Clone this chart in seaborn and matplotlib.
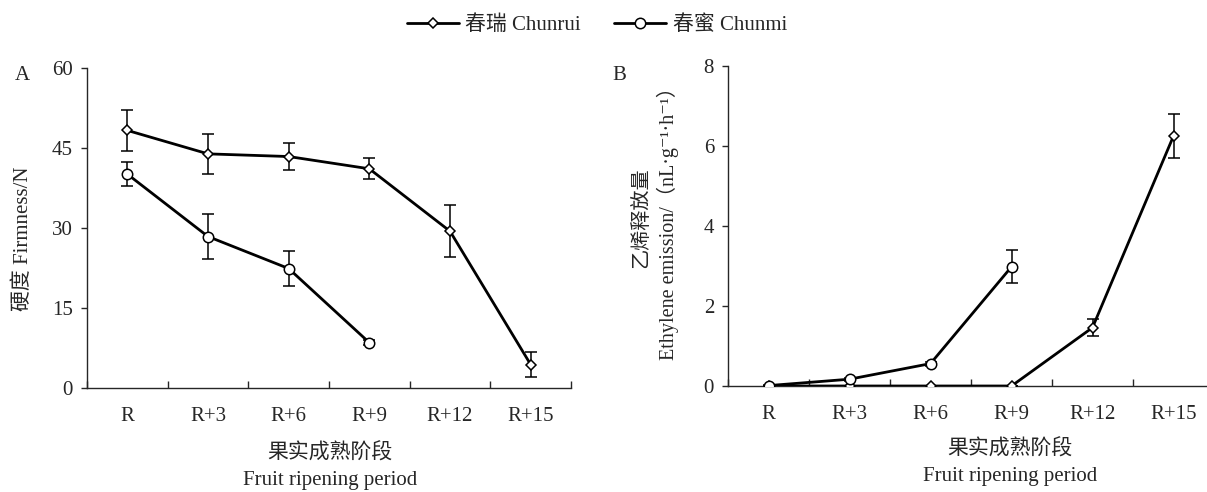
import numpy as np
import pandas as pd
import seaborn as sns
from matplotlib import pyplot as plt

# ripening stages
periods = ["R", "R+3", "R+6", "R+9", "R+12", "R+15"]

# firmness (N), mean and error half-width
firm_chunrui = [48.3, 43.9, 43.4, 41.1, 29.4, 4.4]
firm_chunrui_err = [3.8, 3.7, 2.5, 2.0, 4.9, 2.3]
firm_chunmi = [40.1, 28.4, 22.4, 8.5]
firm_chunmi_err = [2.2, 4.3, 3.2, 0.5]

# ethylene emission (nL g-1 h-1)
eth_chunrui = [0.0, 0.0, 0.0, 0.0, 1.46, 6.25]
eth_chunrui_err = [0.0, 0.0, 0.0, 0.0, 0.21, 0.56]
eth_chunmi = [0.01, 0.17, 0.56, 2.98]
eth_chunmi_err = [0.02, 0.04, 0.05, 0.41]

sns.set_style("ticks")
plt.rcParams['font.family'] = ['Liberation Serif', 'Noto Sans CJK SC', 'DejaVu Sans']
plt.rcParams['axes.linewidth'] = 1.0
FS = 15

fig = plt.figure(figsize=(12.07, 4.92), dpi=100)
axA = fig.add_axes([87/1207, 1-388/492, 484/1207, 320/492])
axB = fig.add_axes([728/1207, 1-386/492, 486/1207, 320/492])


def make_df(vals, errs, name):
    return pd.DataFrame({"pos": np.arange(len(vals)), "val": vals, "err": errs, "cv": name})


def draw(ax, a, a_err, b, b_err):
    d1 = make_df(a, a_err, "春瑞 Chunrui")
    d2 = make_df(b, b_err, "春蜜 Chunmi")
    for d, mk, ms in [(d1, "D", 5.0), (d2, "o", 7.5)]:
        ax.errorbar(d["pos"], d["val"], yerr=d["err"], fmt="none", ecolor="black",
                    elinewidth=1.1, capsize=4, capthick=1.1, zorder=2)
        sns.lineplot(data=d, x="pos", y="val", ax=ax, color="black", lw=2.0,
                     marker=mk, markersize=ms, markerfacecolor="white",
                     markeredgecolor="black", markeredgewidth=1.1,
                     label=d["cv"].iloc[0], zorder=3)
    ax.set_xlim(-0.5, len(periods) - 0.5)
    ax.set_xticks(np.arange(len(periods)))
    ax.set_xticklabels(periods)
    ax.set_xticks(np.arange(len(periods) + 1) - 0.5, minor=True)
    ax.tick_params(axis="x", which="major", length=0, pad=14, labelsize=FS)
    ax.tick_params(axis="x", which="minor", direction="in", length=5, width=1)
    ax.tick_params(axis="y", direction="out", length=4, width=1, labelsize=FS, pad=6)
    ax.set_xlabel("")
    sns.despine(ax=ax)
    ax.get_legend().remove()


draw(axA, firm_chunrui, firm_chunrui_err, firm_chunmi, firm_chunmi_err)
axA.set_ylim(0, 60)
axA.set_yticks([0, 15, 30, 45, 60])
axA.set_ylabel("硬度 Firmness/N", fontsize=FS)
axA.yaxis.set_label_coords(-0.112, 0.466)

draw(axB, eth_chunrui, eth_chunrui_err, eth_chunmi, eth_chunmi_err)
axB.set_ylim(0, 8)
axB.set_yticks([0, 2, 4, 6, 8])
axB.set_ylabel("乙烯释放量\nEthylene emission/（nL·g⁻¹·h⁻¹）", fontsize=14.5,
               linespacing=1.3)
axB.yaxis.set_label_coords(-0.101, 0.525)

fig.text(15/1207, 1-75/492, "A", fontsize=FS, va="center")
fig.text(612/1207, 1-75/492, "B", fontsize=FS, va="center")

fig.text(330/1207, 1-453/492, "果实成熟阶段", fontsize=FS, ha="center", va="center")
fig.text(330/1207, 1-481/492, "Fruit ripening period", fontsize=FS, ha="center", va="center")
fig.text(1010/1207, 1-449/492, "果实成熟阶段", fontsize=FS, ha="center", va="center")
fig.text(1010/1207, 1-476/492, "Fruit ripening period", fontsize=FS, ha="center", va="center")

handles, labels = axA.get_legend_handles_labels()
fig.legend(handles, labels, loc="center", bbox_to_anchor=(597/1207, 1-25/492), ncol=2,
           frameon=False, fontsize=FS, handlelength=2.5, columnspacing=1.6, handletextpad=0.3)

fig.savefig("out.png", dpi=100)
